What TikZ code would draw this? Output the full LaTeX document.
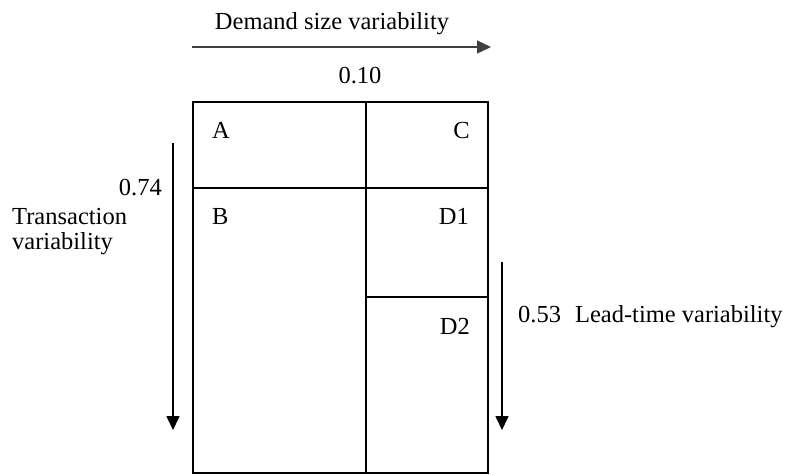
\documentclass[tikz,border=0pt]{standalone}
\usepackage{fontspec}
\setmainfont{Liberation Serif}
\usetikzlibrary{arrows.meta}
\tikzset{
  lbl/.style={inner sep=0pt, font=\fontsize{24.5}{25}\selectfont},
  cellline/.style={line width=2.2pt},
  axis/.style={line width=1.6pt, -{Triangle[length=14pt,width=13pt]}}
}
\begin{document}
\begin{tikzpicture}[x=1pt,y=-1pt]
\useasboundingbox (0,0) rectangle (792,475);
% grid
\coordinate (tl) at (193,102);
\coordinate (br) at (488,473);
\coordinate (mt) at (366,102);
\coordinate (mb) at (366,473);
\coordinate (hl) at (193,188);
\coordinate (hr) at (488,188);
\coordinate (dl) at (366,297);
\coordinate (dr) at (488,297);
\draw[cellline] (tl) rectangle (br);
\draw[cellline] (mt) -- (mb);
\draw[cellline] (hl) -- (hr);
\draw[cellline] (dl) -- (dr);
% cell labels
\node[lbl, anchor=base west] (A) at (212,138) {A};
\node[lbl, anchor=base east] (C) at (470,138) {C};
\node[lbl, anchor=base west] (B) at (212,224) {B};
\node[lbl, anchor=base east] (D1) at (469,224) {D1};
\node[lbl, anchor=base east] (D2) at (470,334) {D2};
% top axis
\node[lbl, anchor=base] (dsv) at (332,29) {Demand size variability};
\coordinate (ts) at (192,47);
\coordinate (te) at (491,47);
\draw[axis, line width=1.3pt, black!75] (ts) -- (te);
\node[lbl, anchor=base] (v10) at (360,83) {0.10};
% left axis
\coordinate (ls) at (173,143);
\coordinate (le) at (173,430);
\draw[axis] (ls) -- (le);
\node[lbl, anchor=base east] (v74) at (162,195) {0.74};
\node[lbl, anchor=west, align=left] (tv) at (12,232) {Transaction\\variability};
% right axis
\coordinate (rs) at (502,262);
\coordinate (re) at (502,430);
\draw[axis] (rs) -- (re);
\node[lbl, anchor=base west] (ltv) at (518,322) {0.53\hspace{14pt}Lead-time variability};
\end{tikzpicture}
\end{document}
